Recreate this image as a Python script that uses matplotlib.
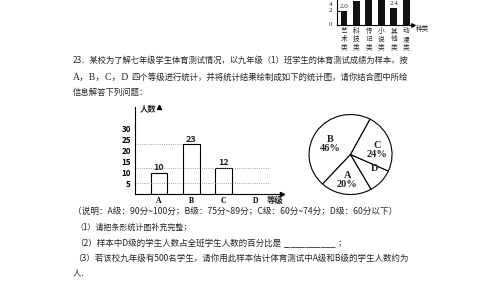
import matplotlib
matplotlib.use('Agg')
import matplotlib.pyplot as plt

plt.rcParams['font.family'] = ['Noto Sans CJK SC', 'DejaVu Sans']

# data
book_types = ['艺术类', '科技类', '传记类', '小说类', '其他类', '动漫类']
book_values = [2.0, 3.4, 5.0, 6.0, 2.4, 4.6]
book_labeled = {0: '2.0', 4: '2.4'}
book_ticks = [0, 2, 4]

grades = ['A', 'B', 'C', 'D']
grade_counts = [10, 23, 12]          # D is left blank (to be completed)
guide_levels = [23, 12, 5]

pie_labels = ['B', 'A', 'D', 'C']
pie_shares = [46, 20, 10, 24]

question = [
    '23．某校为了解七年级学生体育测试情况，以九年级（1）班学生的体育测试成绩为样本，按',
    '四个等级进行统计，并将统计结果绘制成如下的统计图，请你结合图中所给',
    '信息解答下列问题：',
]
notes = [
    '（说明：A级：90分~100分；B级：75分~89分；C级：60分~74分；D级：60分以下）',
    '（1）请把条形统计图补充完整；',
    '（2）样本中D级的学生人数占全班学生人数的百分比是',
    '（3）若该校九年级有500名学生，请你用此样本估计体育测试中A级和B级的学生人数约为',
    '人．',
]

W, H = 484, 300
INK = '#262626'
fig = plt.figure(figsize=(W / 100, H / 100), dpi=100)
fig.patch.set_facecolor('white')
renderer = fig.canvas.get_renderer()


def fit_text(x0, x1, y, s, size, **kw):
    t = fig.text(x0 / W, 1 - y / H, s, fontsize=size, va='center', ha='left',
                 color=kw.pop('color', INK), **kw)
    if x1 is not None:
        w = t.get_window_extent(renderer).width
        t.set_fontsize(size * (x1 - x0) / w)
    return t


# ---- cropped bar chart at the top right ----
ax0 = fig.add_axes([337 / W, 1 - 25 / H, 76 / W, 56 / H])
ax0.bar(range(len(book_types)), book_values, width=0.56, color='#111111')
ax0.set_xlim(-0.565, 5.56)
ax0.set_ylim(0, 8)
for s in ['top', 'right']:
    ax0.spines[s].set_visible(False)
for s in ['left', 'bottom']:
    ax0.spines[s].set_linewidth(0.8)
ax0.set_xticks([])
ax0.set_yticks(book_ticks)
ax0.set_yticklabels([])
ax0.tick_params(axis='y', length=2, direction='in')
for v in book_ticks:
    # the top label sits at the page edge, keep it inside
    ax0.text(-0.95, min(v, 3.0), str(v), ha='right', va='center', fontsize=5,
             family='Liberation Serif', color=INK, clip_on=False)
ax0.plot(1, 0, '>', color='k', ms=2.5, transform=ax0.get_yaxis_transform(), clip_on=False)
for i, txt in book_labeled.items():
    ax0.text(i, book_values[i] + 0.25, txt, ha='center', va='bottom', fontsize=5,
             family='Liberation Serif', color=INK)
for i, name in enumerate(book_types):
    ax0.text(i, -0.3, '\n'.join(name), ha='center', va='top', fontsize=4.8,
             linespacing=1.05, color=INK, clip_on=False)
fit_text(416, None, 28.5, '种类', 4.8)

# ---- question text ----
fit_text(73, 410, 60, question[0], 6)
fit_text(73, 129, 77, 'A，B，C，D', 7.5, family=['Liberation Serif', 'Noto Sans CJK SC'])
fit_text(131, 410, 77, question[1], 6)
fit_text(73, None, 92, question[2], 6)

# ---- grade bar chart ----
ax1 = fig.add_axes([135 / W, 1 - 194.3 / H, 147 / W, 87.2 / H])
ax1.bar(range(len(grade_counts)), grade_counts, width=0.51, facecolor='white',
        edgecolor='black', linewidth=0.8)
ax1.set_xlim(-0.74, 3.8)
ax1.set_ylim(0, 40)
for s in ['top', 'right']:
    ax1.spines[s].set_visible(False)
for s in ['left', 'bottom']:
    ax1.spines[s].set_linewidth(0.8)
ax1.set_yticks([5, 10, 15, 20, 25, 30])
ax1.tick_params(axis='y', length=0, pad=3, labelsize=5.8)
for lab in ax1.get_yticklabels():
    lab.set_fontweight('bold')
ax1.set_xticks(range(len(grades)))
ax1.set_xticklabels(grades, family='Liberation Serif', fontweight='bold', fontsize=5.5)
ax1.tick_params(axis='x', length=0, pad=2)
ax1.plot(1, 0, '>', color='k', ms=3, transform=ax1.get_yaxis_transform(), clip_on=False)
ax1.plot(0, 1, '^', color='k', ms=3, transform=ax1.get_xaxis_transform(), clip_on=False)
ax1.hlines(guide_levels[0], -0.74, 1 - 0.255, colors='#888888', linestyles=':', linewidth=0.6)
ax1.hlines(guide_levels[1:], -0.74, 3.43, colors='#888888', linestyles=':', linewidth=0.6)
for i, v in enumerate(grade_counts):
    ax1.text(i, v + 0.3, str(v), ha='center', va='bottom', fontsize=6.5,
             fontweight='bold', color=INK)
fit_text(140, None, 109, '人数', 6, fontweight='bold')
fit_text(267, None, 200.5, '等级', 6, fontweight='bold')

# ---- pie chart ----
ax2 = fig.add_axes([(350.5 - 42.3) / W, 1 - (154.5 + 40.8) / H, 84.7 / W, 81.6 / H])
ax2.pie(pie_shares, startangle=62, counterclock=True, colors=['white'] * 4,
        wedgeprops=dict(edgecolor='black', linewidth=0.8))
ax2.set_xlim(-1.02, 1.02)
ax2.set_ylim(-1.02, 1.02)
ax2.set_aspect('auto')
pie_text = {
    'B': (330.7, 144, 'B\n46%'),
    'C': (377.3, 149.7, 'C\n24%'),
    'D': (375, 168.3, 'D'),
    'A': (347.3, 180.3, 'A\n20%'),
}
for lab in pie_labels:
    x, y, s = pie_text[lab]
    fig.text(x / W, 1 - y / H, s, ha='center', va='center', fontsize=7.5,
             family='Liberation Serif', fontweight='bold', linespacing=1.0, color=INK)

# ---- notes below ----
fit_text(73, 400, 211.7, notes[0], 6)
fit_text(75, 192, 227.7, notes[1], 6)
fit_text(75, 283, 243.3, notes[2], 6)
fit_text(283, 337, 243.3, '______________', 6, family='DejaVu Sans')
fit_text(338, None, 243.3, '；', 6)
fit_text(73, 410, 258.3, notes[3], 6)
fit_text(73, None, 273.3, notes[4], 6)

fig.savefig('out.png', dpi=100, facecolor='white')
